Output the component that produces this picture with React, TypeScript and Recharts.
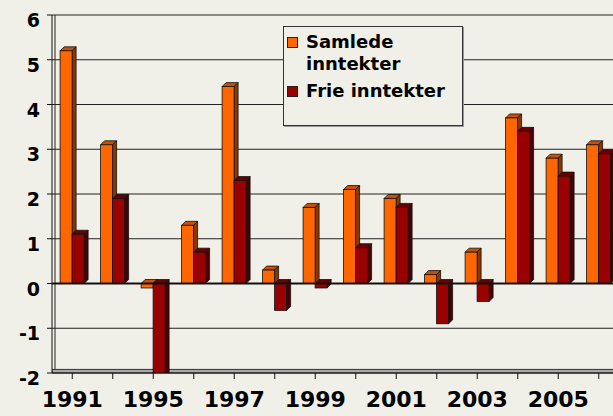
import React from 'react';
import {
  BarChart,
  Bar,
  XAxis,
  YAxis,
  CartesianGrid,
  ReferenceLine,
  ReferenceArea,
} from 'recharts';

const years = ['1991', '1992', '1993', '1994', '1995', '1996', '1997', '1998', '1999', '2000', '2001', '2002', '2003', '2004'];
const tickLabels = ['1991', '', '1995', '', '1997', '', '1999', '', '2001', '', '2003', '', '2005', ''];
const samlede = [5.2, 3.1, -0.1, 1.3, 4.4, 0.3, 1.7, 2.1, 1.9, 0.2, 0.7, 3.7, 2.8, 3.1];
const frie = [1.1, 1.9, -2.2, 0.7, 2.3, -0.6, -0.1, 0.8, 1.7, -0.9, -0.4, 3.4, 2.4, 2.9];
const yTicks = [-2, -1, 0, 1, 2, 3, 4, 5, 6];

const data = years.map((year, i) => ({ year, samlede: samlede[i], frie: frie[i] }));

const series = [
  { key: 'samlede', name: 'Samlede inntekter', color: '#ff6600' },
  { key: 'frie', name: 'Frie inntekter', color: '#990000' },
];

const BG = '#f0efe8';
const FONT = '"DejaVu Sans", Verdana, sans-serif';

const faces: Record<string, { top: string; side: string }> = {
  '#ff6600': { top: '#c85000', side: '#8a3800' },
  '#990000': { top: '#6a0000', side: '#4a0000' },
};

// front face + top + right side, Excel style
const Bar3D = (props: any) => {
  const { x, y, width, height, fill } = props;
  if (x == null || y == null) return null;
  const top = Math.min(y, y + height);
  const h = Math.abs(height);
  const d = 4;
  const f = faces[fill] || { top: fill, side: fill };
  return (
    <g stroke="#111" strokeWidth={0.8}>
      <polygon
        points={`${x},${top} ${x + d},${top - d} ${x + width + d},${top - d} ${x + width},${top}`}
        fill={f.top}
      />
      <polygon
        points={`${x + width},${top} ${x + width + d},${top - d} ${x + width + d},${top + h - d} ${x + width},${top + h}`}
        fill={f.side}
      />
      <rect x={x} y={top} width={width} height={h} fill={fill} />
    </g>
  );
};

const YTick = ({ x, y, payload }: any) => (
  <text x={x} y={y} dy={12} textAnchor="end" fill="#000" fontFamily={FONT} fontWeight="bold" fontSize={19}>
    {payload.value}
  </text>
);

const XTick = ({ x, y, index }: any) => (
  <text x={x} y={y} dy={26} textAnchor="middle" fill="#000" fontFamily={FONT} fontWeight="bold" fontSize={22}>
    {tickLabels[index]}
  </text>
);

const LegendBox = () => (
  <div
    style={{
      position: 'absolute',
      left: 283,
      top: 26,
      width: 175,
      height: 94,
      border: '1.5px solid #333',
      boxShadow: '1px 1px 0 #999',
      background: BG,
      padding: '4px 0 0 3px',
      fontFamily: FONT,
      fontWeight: 'bold',
      fontSize: 18,
      lineHeight: '22px',
      color: '#000',
    }}
  >
    {series.map((s, i) => (
      <div key={s.key} style={{ display: 'flex', alignItems: 'flex-start', marginTop: i ? 5 : 0 }}>
        <span
          style={{
            width: 9,
            height: 9,
            marginTop: 6,
            marginRight: 8,
            background: s.color,
            border: '1px solid #222',
            flex: 'none',
          }}
        />
        <span style={{ width: 152 }}>{s.name}</span>
      </div>
    ))}
  </div>
);

export default function App() {
  return (
    <div style={{ position: 'absolute', left: 0, top: 0, width: 613, height: 416, overflow: 'hidden', background: BG }}>
      <BarChart
        width={625}
        height={416}
        data={data}
        margin={{ top: 15, right: 6, left: 0, bottom: 0 }}
        barCategoryGap="20%"
        barGap={0}
      >
        <CartesianGrid
          stroke="#222"
          strokeWidth={1}
          verticalCoordinatesGenerator={({ offset }: any) => [offset.left + 3]}
        />
        <ReferenceArea y1={-2} y2={-1.92} fill="#a8a8a8" fillOpacity={1} stroke="#333" ifOverflow="hidden" />
        <XAxis
          dataKey="year"
          interval={0}
          height={43}
          tick={<XTick />}
          tickSize={6}
          axisLine={{ stroke: '#111' }}
          tickLine={{ stroke: '#111' }}
        />
        <YAxis
          width={52}
          domain={[-2, 6]}
          ticks={yTicks}
          allowDataOverflow
          tick={<YTick />}
          tickSize={5}
          tickMargin={7}
          axisLine={{ stroke: '#111' }}
          tickLine={{ stroke: '#111' }}
        />
        <ReferenceLine y={0} stroke="#111" strokeWidth={2} />
        {series.map((s) => (
          <Bar key={s.key} dataKey={s.key} name={s.name} fill={s.color} shape={<Bar3D />} isAnimationActive={false} />
        ))}
      </BarChart>
      <LegendBox />
    </div>
  );
}
